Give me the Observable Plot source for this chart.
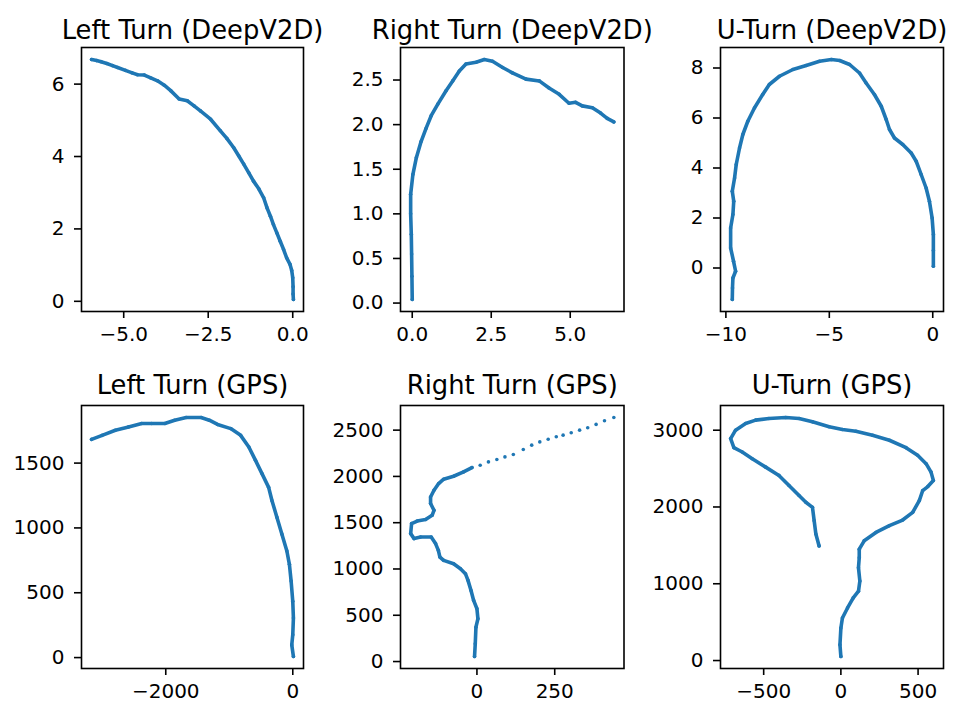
<!DOCTYPE html>
<html><head><meta charset="utf-8">
<script src="https://cdn.jsdelivr.net/npm/d3@7"></script>
<script src="https://cdn.jsdelivr.net/npm/@observablehq/plot@0.6"></script>
<style>
body{margin:0;background:#fff;}
#fig{position:relative;width:953px;height:705px;overflow:hidden;background:#fff;}
#fig > div{position:absolute;}
</style></head><body><div id="fig"></div>
<script>
const titles = ["Left Turn (DeepV2D)", "Right Turn (DeepV2D)", "U-Turn (DeepV2D)",
                "Left Turn (GPS)", "Right Turn (GPS)", "U-Turn (GPS)"];

const leftTurnDeep = [[-5.95,6.68],[-5.8,6.65],[-5.67,6.62],[-5.5,6.57],[-5.33,6.51],[-5.18,6.46],[-4.95,6.38],[-4.75,6.31],[-4.59,6.26],[-4.39,6.25],[-4.2,6.17],[-4.0,6.09],[-3.8,5.97],[-3.61,5.82],[-3.36,5.59],[-3.12,5.54],[-2.92,5.4],[-2.73,5.26],[-2.43,5.03],[-2.14,4.71],[-1.95,4.5],[-1.75,4.25],[-1.6,4.02],[-1.45,3.79],[-1.3,3.55],[-1.16,3.32],[-1.0,3.1],[-0.86,2.86],[-0.76,2.58],[-0.66,2.35],[-0.57,2.12],[-0.47,1.89],[-0.37,1.66],[-0.27,1.43],[-0.18,1.2],[-0.08,1.02],[-0.03,0.85],[0.0,0.65],[0.01,0.4],[0.01,0.2],[0.02,0.05]];

const rightTurnDeep = [[0.0,0.04],[-0.01,0.3],[-0.02,0.55],[-0.03,0.77],[-0.05,1.0],[-0.05,1.22],[0.02,1.44],[0.13,1.63],[0.28,1.81],[0.44,1.96],[0.6,2.1],[0.81,2.23],[1.07,2.38],[1.28,2.49],[1.49,2.6],[1.7,2.68],[2.02,2.7],[2.28,2.73],[2.54,2.71],[2.86,2.64],[3.17,2.58],[3.6,2.51],[4.02,2.49],[4.33,2.41],[4.65,2.34],[4.96,2.24],[5.17,2.25],[5.38,2.21],[5.7,2.19],[5.96,2.13],[6.17,2.07],[6.38,2.03]];

const uTurnDeep = [[0.03,0.07],[0.03,0.7],[0.03,1.34],[-0.03,2.0],[-0.16,2.67],[-0.32,3.2],[-0.56,3.74],[-0.8,4.27],[-1.04,4.6],[-1.45,4.94],[-1.85,5.2],[-2.09,5.54],[-2.25,5.94],[-2.49,6.47],[-2.82,6.94],[-3.22,7.4],[-3.54,7.8],[-4.02,8.14],[-4.5,8.3],[-4.9,8.34],[-5.47,8.27],[-6.12,8.1],[-6.76,7.94],[-7.41,7.67],[-7.9,7.34],[-8.22,6.94],[-8.62,6.4],[-8.94,5.87],[-9.18,5.34],[-9.34,4.8],[-9.5,4.14],[-9.58,3.6],[-9.69,3.07],[-9.62,2.67],[-9.66,2.14],[-9.77,1.6],[-9.77,0.8],[-9.63,0.27],[-9.53,-0.13],[-9.66,-0.4],[-9.68,-0.8],[-9.69,-1.26]];

const leftTurnGps = [[10,8],[-16,98],[0,176],[10,305],[0,434],[-26,590],[-53,719],[-93,822],[-171,952],[-249,1081],[-327,1210],[-380,1313],[-483,1417],[-587,1521],[-692,1624],[-821,1714],[-977,1766],[-1184,1798],[-1315,1831],[-1444,1852],[-1678,1852],[-1860,1831],[-2015,1805],[-2223,1805],[-2379,1805],[-2586,1779],[-2794,1753],[-3002,1714],[-3168,1683]];

const rightTurnGps = [[-7.7,54],[-5.4,192],[-3.2,371],[3.2,462],[0,570],[-10.6,660],[-19,768],[-28.7,877],[-37,949],[-53,1003],[-75,1057],[-107,1093],[-119,1129],[-124,1201],[-133,1274],[-147,1345],[-181,1345],[-202,1328],[-213,1382],[-210,1490],[-192,1518],[-165,1534],[-144,1580],[-138,1634],[-149,1707],[-149,1778],[-138,1851],[-123,1923],[-107,1970],[-75,2002],[-43,2049],[-16,2096]];
const rightTurnGpsSparse = [[10.5,2121],[37,2157],[64,2183],[90,2211],[117,2237],[149,2291],[176,2338],[202,2373],[229,2402],[255,2428],[277,2446],[303,2471],[330,2500],[356,2525],[383,2562],[410,2601],[440,2637]];

const uTurnGps = [[0,52],[-6,205],[0,423],[10,554],[43,685],[80,816],[114,904],[123,1035],[114,1209],[119,1340],[119,1450],[151,1559],[227,1668],[314,1756],[400,1830],[465,1930],[508,2083],[530,2214],[563,2266],[599,2345],[584,2454],[552,2564],[497,2673],[422,2773],[314,2869],[205,2935],[97,2987],[10,3009],[-76,3044],[-184,3109],[-271,3153],[-357,3166],[-466,3153],[-552,3131],[-617,3088],[-682,3000],[-714,2891],[-693,2773],[-639,2716],[-574,2629],[-487,2519],[-401,2411],[-336,2280],[-271,2149],[-227,2061],[-184,1995],[-173,1821],[-162,1647],[-141,1493]];

const xTicks = [[-5,-2.5,0],[0,2.5,5],[-10,-5,0],[-2000,0],[0,250],[-500,0,500]];
const yTicks = [[0,2,4,6],[0,0.5,1,1.5,2,2.5],[0,2,4,6,8],[0,500,1000,1500],[0,500,1000,1500,2000,2500],[0,1000,2000,3000]];
const xFormats = [".1f",".1f","d","d","d","d"];
const yFormats = ["d",".1f","d","d","d","d"];

const denseSets = [leftTurnDeep, rightTurnDeep, uTurnDeep, leftTurnGps, rightTurnGps, uTurnGps];
const sparseSets = [[], [], [], [], rightTurnGpsSparse, []];

const BLUE = "#1f77b4";
const cols = [{left:0,width:317,mL:81,mR:14},{left:317,width:318,mL:83,mR:11.5},{left:635,width:318,mL:85,mR:10}];
const rows = [{top:0,height:340,mT:47,mB:29,tdy:-9},{top:360,height:345,mT:45,mB:37,tdy:-11.5}];

function pad(vals){
  const lo = d3.min(vals), hi = d3.max(vals), m = (hi-lo)*0.05;
  return [lo-m, hi+m];
}

const fig = document.getElementById("fig");
for (let i = 0; i < 6; i++) {
  const c = cols[i%3], r = rows[Math.floor(i/3)];
  const dense = denseSets[i].map(([x,y]) => ({x,y}));
  const sparse = sparseSets[i].map(([x,y]) => ({x,y}));
  const all = dense.concat(sparse);
  const chart = Plot.plot({
    width: c.width, height: r.height,
    marginLeft: c.mL, marginRight: c.mR, marginTop: r.mT, marginBottom: r.mB,
    style: {fontFamily: "'DejaVu Sans', sans-serif", fontSize: "20px", color: "black", background: "transparent", overflow: "visible"},
    x: {domain: pad(all.map(d=>d.x))},
    y: {domain: pad(all.map(d=>d.y))},
    marks: [
      Plot.line(dense, {x:"x", y:"y", stroke: BLUE, strokeWidth: 3.6, strokeLinejoin: "round", strokeLinecap: "round"}),
      Plot.dot(all, {x:"x", y:"y", r: 1.8, fill: BLUE, stroke: "none"}),
      Plot.frame({stroke: "black", strokeWidth: 1.6}),
      Plot.axisX({ticks: xTicks[i], tickFormat: d3.format(xFormats[i]), tickSize: 7, tickPadding: 8, strokeWidth: 1.6, label: null}),
      Plot.axisY({ticks: yTicks[i], tickFormat: d3.format(yFormats[i]), tickSize: 7, tickPadding: 10, strokeWidth: 1.6, label: null}),
      Plot.text([titles[i]], {text: d=>d, frameAnchor: "top", lineAnchor: "bottom", dy: r.tdy, fontSize: 25.8, fill: "black"})
    ]
  });
  const wrap = document.createElement("div");
  wrap.style.left = c.left + "px";
  wrap.style.top = r.top + "px";
  wrap.appendChild(chart);
  fig.appendChild(wrap);
}
</script></body></html>
